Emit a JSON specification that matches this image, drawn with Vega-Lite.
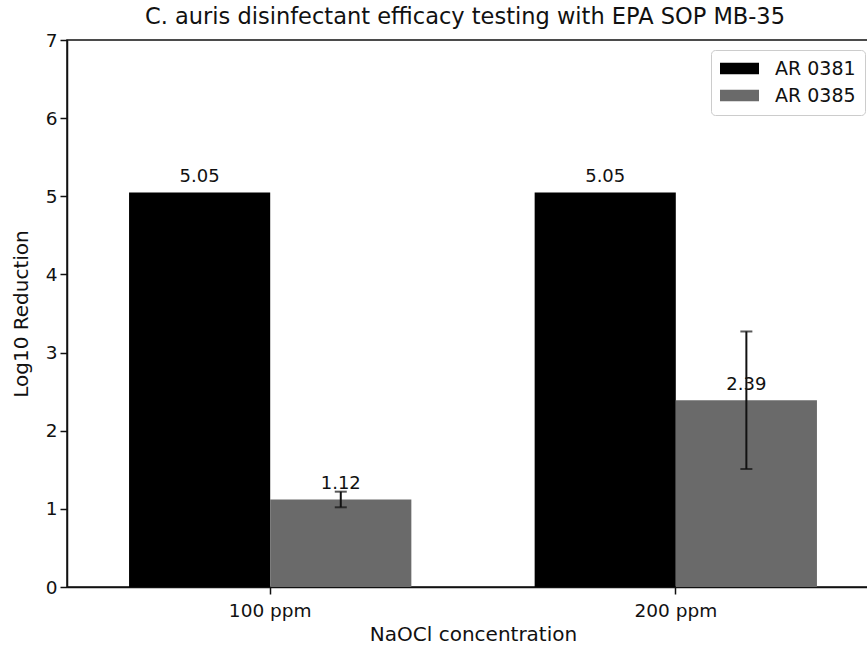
{
  "$schema": "https://vega.github.io/schema/vega-lite/v6.json",
  "width": 812,
  "height": 547,
  "autosize": {"type": "none"},
  "padding": {"left": 67, "top": 40, "right": 0, "bottom": 61},
  "background": "white",
  "config": {
    "font": "DejaVu Sans",
    "view": {"stroke": "#111111", "strokeWidth": 1.5},
    "axis": {"domainColor": "#111111", "domainWidth": 1.5, "tickColor": "#111111", "tickWidth": 1.5, "tickSize": 7, "labelColor": "#111111", "titleColor": "#111111", "labelFontSize": 18.5, "titleFontSize": 20, "titleFontWeight": "normal", "grid": false}
  },
  "title": {"text": "C. auris disinfectant efficacy testing with EPA SOP MB-35", "fontSize": 22.5, "fontWeight": "normal", "color": "#111111", "anchor": "middle", "baseline": "alphabetic", "offset": 14, "dy": 29, "dx": -8},
  "data": {"values": [
    {"conc": "100 ppm", "strain": "AR 0381", "value": 5.05},
    {"conc": "100 ppm", "strain": "AR 0385", "value": 1.12, "lo": 1.02, "hi": 1.22},
    {"conc": "200 ppm", "strain": "AR 0381", "value": 5.05},
    {"conc": "200 ppm", "strain": "AR 0385", "value": 2.39, "lo": 1.51, "hi": 3.27}
  ]},
  "encoding": {
    "x": {"field": "conc", "type": "nominal", "title": "NaOCl concentration", "scale": {"paddingInner": 0.304, "paddingOuter": 0.153}, "axis": {"labelAngle": 0, "labelPadding": 7, "titlePadding": 5}},
    "xOffset": {"field": "strain", "type": "nominal", "scale": {"paddingInner": 0, "paddingOuter": 0}}
  },
  "layer": [
    {
      "mark": {"type": "bar"},
      "encoding": {
        "y": {"field": "value", "type": "quantitative", "title": "Log10 Reduction", "scale": {"domain": [0, 7], "nice": false}, "axis": {"values": [0,1,2,3,4,5,6,7], "format": "d", "labelPadding": 3, "titlePadding": 14}},
        "color": {"field": "strain", "type": "nominal", "scale": {"domain": ["AR 0381", "AR 0385"], "range": ["#000000", "#6a6a6a"]},
          "legend": {"title": null, "orient": "none", "legendX": 644, "legendY": 10, "padding": 9, "strokeColor": "#cccccc", "cornerRadius": 4, "fillColor": "white", "symbolType": "M-1,-0.3H1V0.3H-1Z", "symbolSize": 1521, "symbolStrokeWidth": 0, "clipHeight": 19, "rowPadding": 7, "labelFontSize": 19, "labelOffset": 16, "labelColor": "#111111"}}
      }
    },
    {
      "mark": {"type": "text", "fontSize": 18, "baseline": "alphabetic", "dy": -10, "color": "#111111"},
      "encoding": {
        "y": {"field": "value", "type": "quantitative"},
        "text": {"field": "value", "type": "quantitative", "format": ".2f"}
      }
    },
    {
      "transform": [{"filter": "isValid(datum.lo)"}],
      "mark": {"type": "rule", "strokeWidth": 2, "color": "#111111"},
      "encoding": {
        "y": {"field": "lo", "type": "quantitative"},
        "y2": {"field": "hi"}
      }
    },
    {
      "transform": [{"filter": "isValid(datum.lo)"}, {"fold": ["lo", "hi"], "as": ["end", "cap"]}],
      "mark": {"type": "tick", "size": 12, "thickness": 2, "color": "#111111"},
      "encoding": {
        "y": {"field": "cap", "type": "quantitative"}
      }
    }
  ]
}
